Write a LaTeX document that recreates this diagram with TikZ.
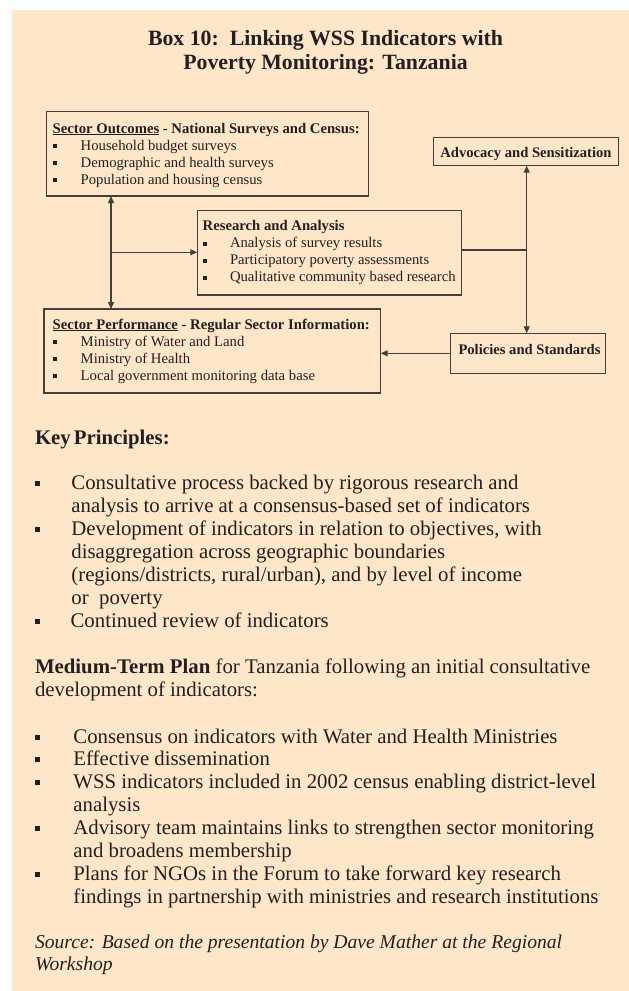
\documentclass[tikz,border=0pt]{standalone}
\usepackage{fontspec}
\setmainfont{Liberation Serif}
\usetikzlibrary{arrows.meta}
\definecolor{bgpeach}{RGB}{254,230,201}
\definecolor{ink}{RGB}{35,31,32}
\definecolor{linegray}{RGB}{68,63,60}
\begin{document}
\begin{tikzpicture}[x=1pt,y=-1pt,
  every node/.style={inner sep=0pt, outer sep=0pt, text=ink},
  boxst/.style={draw=linegray, line width=1.2pt, rectangle},
  dtext/.style={font=\fontsize{14.7}{17}\selectfont, anchor=base west},
  btext/.style={font=\fontsize{14.6}{17}\selectfont\bfseries, anchor=base},
  ltext/.style={font=\fontsize{20.8}{23}\selectfont, anchor=base west},
  sbul/.style={fill=ink, minimum size=4pt},
  lbul/.style={fill=ink, minimum size=5pt},
  conn/.style={draw=linegray, line width=1.2pt},
  onetip/.style={-{Triangle[length=7pt,width=6pt]}},
  twotip/.style={{Triangle[length=7pt,width=6pt]}-{Triangle[length=7pt,width=6pt]}},
]
\useasboundingbox (0,0) rectangle (629,991);
\fill[white] (0,0) rectangle (629,991);
\fill[bgpeach] (12,10) rectangle (629,991);

% title
\node[font=\fontsize{21.8}{24}\selectfont\bfseries, anchor=base] (t1) at (325.5,45) {Box 10:\ \ Linking WSS Indicators with};
\node[font=\fontsize{21.8}{24}\selectfont\bfseries, anchor=base] (t2) at (325.5,69) {Poverty Monitoring: Tanzania};

% boxes
\node[boxst, minimum width=322pt, minimum height=84.3pt] (outcomes) at (207.3,153.85) {};
\node[boxst, minimum width=185.4pt, minimum height=28.4pt] (advocacy) at (526,151.5) {};
\node[btext] (advtxt) at (526,157.5) {Advocacy and Sensitization};
\node[boxst, minimum width=264.4pt, minimum height=84.3pt] (research) at (329.5,252.85) {};
\node[boxst, minimum width=336.7pt, minimum height=84pt] (performance) at (212.35,351) {};
\node[boxst, minimum width=154.8pt, minimum height=40pt] (policies) at (527.9,353.3) {};
\node[btext] (poltxt) at (529.5,354.3) {Policies and Standards};

% outcomes text
\node[dtext] (oh) at (52.7,133) {\bfseries\underline{Sector Outcomes} - National Surveys and Census:};
\node[sbul] (ob1) at (55,146) {};
\node[dtext] (o1) at (80.7,150) {Household budget surveys};
\node[sbul] (ob2) at (55,163) {};
\node[dtext] (o2) at (80.7,167) {Demographic and health surveys};
\node[sbul] (ob3) at (55,180) {};
\node[dtext] (o3) at (80.7,184) {Population and housing census};

% research text
\node[dtext] (rh) at (202.7,230.5) {\bfseries Research and Analysis};
\node[sbul] (rb1) at (205,243.5) {};
\node[dtext] (r1) at (230,247.5) {Analysis of survey results};
\node[sbul] (rb2) at (205,260.5) {};
\node[dtext] (r2) at (230,264.5) {Participatory poverty assessments};
\node[sbul] (rb3) at (205,277.5) {};
\node[dtext] (r3) at (230,281.5) {Qualitative community based research};

% performance text
\node[dtext] (ph) at (52.7,329) {\bfseries\underline{Sector Performance} - Regular Sector Information:};
\node[sbul] (pb1) at (55,342) {};
\node[dtext] (p1) at (80.7,346) {Ministry of Water and Land};
\node[sbul] (pb2) at (55,359) {};
\node[dtext] (p2) at (80.7,363) {Ministry of Health};
\node[sbul] (pb3) at (55,376) {};
\node[dtext] (p3) at (80.7,380) {Local government monitoring data base};

% connectors
\coordinate (lv) at (111,252.3);
\draw[conn, twotip] (lv |- outcomes.south) -- (lv |- performance.north);
\draw[conn, onetip] (lv) -- (lv -| research.west);
\coordinate (rv) at (526.7,250);
\draw[conn] (rv -| research.east) -- (rv);
\draw[conn, twotip] (rv |- advocacy.south) -- (rv |- policies.north);
\draw[conn, onetip] (policies.west) -- (policies.west -| performance.east);

% key principles
\node[ltext, font=\fontsize{20.8}{23}\selectfont\bfseries] (kp) at (35,444) {Key\hspace{3pt}Principles:};
\node[lbul] (kb1) at (37.7,483) {};
\node[ltext] (k1) at (71.4,489) {Consultative process backed by rigorous research and};
\node[ltext] (k2) at (71.4,512) {analysis to arrive at a consensus-based set of indicators};
\node[lbul] (kb3) at (37.7,529) {};
\node[ltext] (k3) at (71.4,535) {Development of indicators in relation to objectives, with};
\node[ltext] (k4) at (71.4,558) {disaggregation across geographic boundaries};
\node[ltext] (k5) at (71.4,581) {(regions/districts, rural/urban), and by level of income};
\node[ltext] (k6) at (71.4,604) {or\ \ poverty};
\node[lbul] (kb7) at (37.7,621) {};
\node[ltext] (k7) at (70.6,627) {Continued review of indicators};

% medium-term plan
\node[ltext] (m0) at (35,673) {\bfseries Medium-Term Plan\mdseries\ for Tanzania following an initial consultative};
\node[ltext] (m00) at (35,696) {development of indicators:};
\node[lbul] (mb1) at (37.7,737) {};
\node[ltext] (m1) at (73.4,743) {Consensus on indicators with Water and Health Ministries};
\node[lbul] (mb2) at (37.7,759) {};
\node[ltext] (m2) at (73.4,765) {Effective dissemination};
\node[lbul] (mb3) at (37.7,782) {};
\node[ltext] (m3) at (73.4,788) {WSS indicators included in 2002 census enabling district-level};
\node[ltext] (m4) at (73.4,811) {analysis};
\node[lbul] (mb5) at (37.7,828) {};
\node[ltext] (m5) at (73.4,834) {Advisory team maintains links to strengthen sector monitoring};
\node[ltext] (m6) at (73.4,857) {and broadens membership};
\node[lbul] (mb7) at (37.7,874) {};
\node[ltext] (m7) at (73.4,880) {Plans for NGOs in the Forum to take forward key research};
\node[ltext] (m8) at (73.4,903) {findings in partnership with ministries and research institutions};

% source
\node[ltext, font=\fontsize{19.6}{22}\selectfont\itshape] (s1) at (35,948) {Source: Based on the presentation by Dave Mather at the Regional};
\node[ltext, font=\fontsize{19.6}{22}\selectfont\itshape] (s2) at (35,970) {Workshop};
\end{tikzpicture}
\end{document}
